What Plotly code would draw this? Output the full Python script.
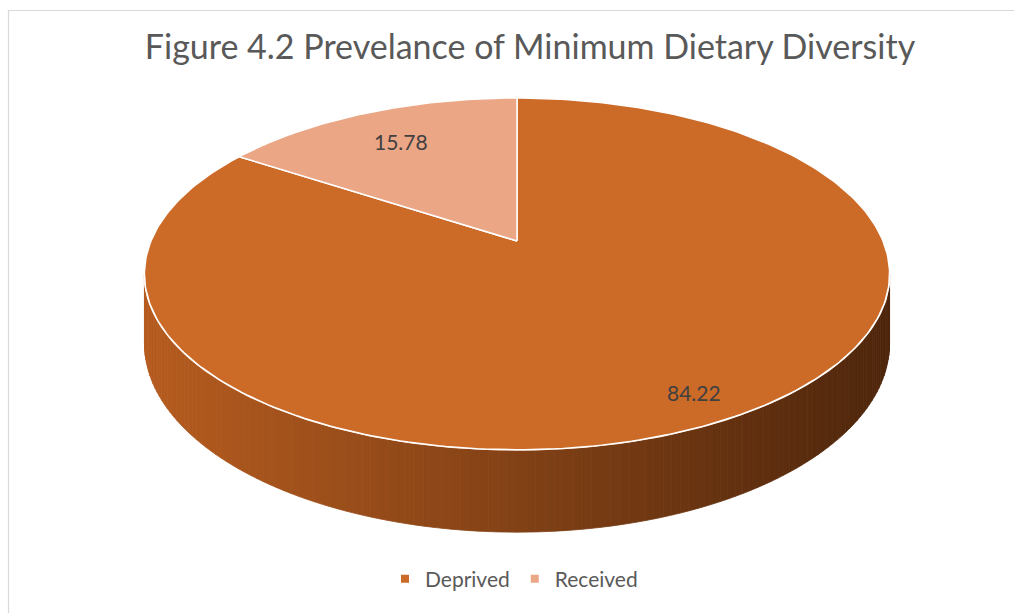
import math
import plotly.graph_objects as go

# Chart data
categories = ["Deprived", "Received"]
values = [84.22, 15.78]
top_colors = ["#CC6A28", "#EBA686"]
side_left = [(182, 92, 31), (214, 140, 110)]
side_right = [(78, 38, 12), (120, 70, 50)]
title_text = "Figure 4.2 Prevelance of Minimum Dietary Diversity"

W, H_PX = 1014, 613

# Projection of the tilted disk (pixel units)
CX, CY = 517.0, 241.0      # projected disk centre (top face)
RX, RY = 366.0, 169.7      # horizontal / vertical radii
K = 0.187                  # perspective strength
DEPTH = 67.0               # wall thickness
LABEL_R = [0.87, 0.75]     # label radius per slice (fraction of radius)


def proj(theta_deg, r=1.0, z=0.0):
    t = math.radians(theta_deg)
    x, y = r * math.sin(t), r * math.cos(t)
    w = 1.0 + K * y
    return CX + RX * x / w, CY - RY * y / w + DEPTH * z / w


def mix(c0, c1, f):
    f = min(max(f, 0.0), 1.0)
    return "rgb(%d,%d,%d)" % tuple(round(a + (b - a) * f) for a, b in zip(c0, c1))


total = sum(values)
bounds = [0.0]
for v in values:
    bounds.append(bounds[-1] + 360.0 * v / total)

fig = go.Figure()

# Visible front wall lies between the two silhouette tangents
tan = math.degrees(math.acos(-K))
vis_lo, vis_hi = tan, 360.0 - tan
x_left = proj(vis_hi)[0]
x_right = proj(vis_lo)[0]

for i, (a0, a1) in enumerate(zip(bounds[:-1], bounds[1:])):
    lo, hi = max(a0, vis_lo), min(a1, vis_hi)
    if hi <= lo:
        continue
    n = max(2, int((hi - lo) / 1.2))
    for j in range(n):
        t0 = lo + (hi - lo) * j / n
        t1 = lo + (hi - lo) * (j + 1) / n
        p = [proj(t0), proj(t1), proj(t1, z=1), proj(t0, z=1)]
        xm = sum(q[0] for q in p) / 4
        col = mix(side_left[i], side_right[i], (xm - x_left) / (x_right - x_left))
        fig.add_trace(go.Scatter(
            x=[q[0] for q in p] + [p[0][0]], y=[q[1] for q in p] + [p[0][1]],
            mode="lines", fill="toself", fillcolor=col,
            line=dict(color=col, width=0.8), hoverinfo="skip", showlegend=False))

# Highlight along the front rim
rim = [proj(vis_lo + (vis_hi - vis_lo) * s / 200) for s in range(201)]
fig.add_trace(go.Scatter(x=[q[0] for q in rim], y=[q[1] for q in rim], mode="lines",
                         line=dict(color="#FBE3CF", width=2), hoverinfo="skip",
                         showlegend=False))

# Top faces of the slices
for i, (a0, a1) in enumerate(zip(bounds[:-1], bounds[1:])):
    n = max(4, int((a1 - a0) / 1.0))
    pts = [proj(a0 + (a1 - a0) * s / n) for s in range(n + 1)]
    cx, cy = proj(0, r=0)
    xs = [cx] + [q[0] for q in pts] + [cx]
    ys = [cy] + [q[1] for q in pts] + [cy]
    fig.add_trace(go.Scatter(x=xs, y=ys, mode="lines", fill="toself",
                             fillcolor=top_colors[i],
                             line=dict(color="white", width=1.5),
                             hoverinfo="skip", showlegend=False))

# Value labels
for i, (a0, a1) in enumerate(zip(bounds[:-1], bounds[1:])):
    lx, ly = proj((a0 + a1) / 2, r=LABEL_R[i])
    fig.add_annotation(x=lx, y=ly, text="%.2f" % values[i], showarrow=False,
                       font=dict(family="Lato", size=21, color="#404040"))

# Legend entries
for i, name in enumerate(categories):
    fig.add_trace(go.Scatter(x=[None], y=[None], mode="markers", name=name,
                             marker=dict(symbol="square", size=8, color=top_colors[i])))

fig.update_layout(
    width=W, height=H_PX,
    margin=dict(l=0, r=0, t=0, b=0),
    paper_bgcolor="white", plot_bgcolor="white",
    xaxis=dict(range=[0, W], visible=False, fixedrange=True),
    yaxis=dict(range=[H_PX, 0], visible=False, fixedrange=True),
    title=dict(text=title_text, x=530 / W, xanchor="center", y=1 - 47 / H_PX,
               yanchor="middle", font=dict(family="Lato", size=34, color="#595959")),
    legend=dict(orientation="h", x=514 / W, xanchor="center", y=1 - 579 / H_PX,
                yanchor="middle", font=dict(family="Lato", size=21, color="#595959"),
                itemwidth=30, bgcolor="rgba(0,0,0,0)"),
    shapes=[dict(type="rect", xref="x", yref="y", x0=8.5, y0=10.5, x1=W + 5, y1=H_PX + 5,
                 line=dict(color="#D9D9D9", width=1.2), layer="below")],
)

fig.write_html("out.html")
